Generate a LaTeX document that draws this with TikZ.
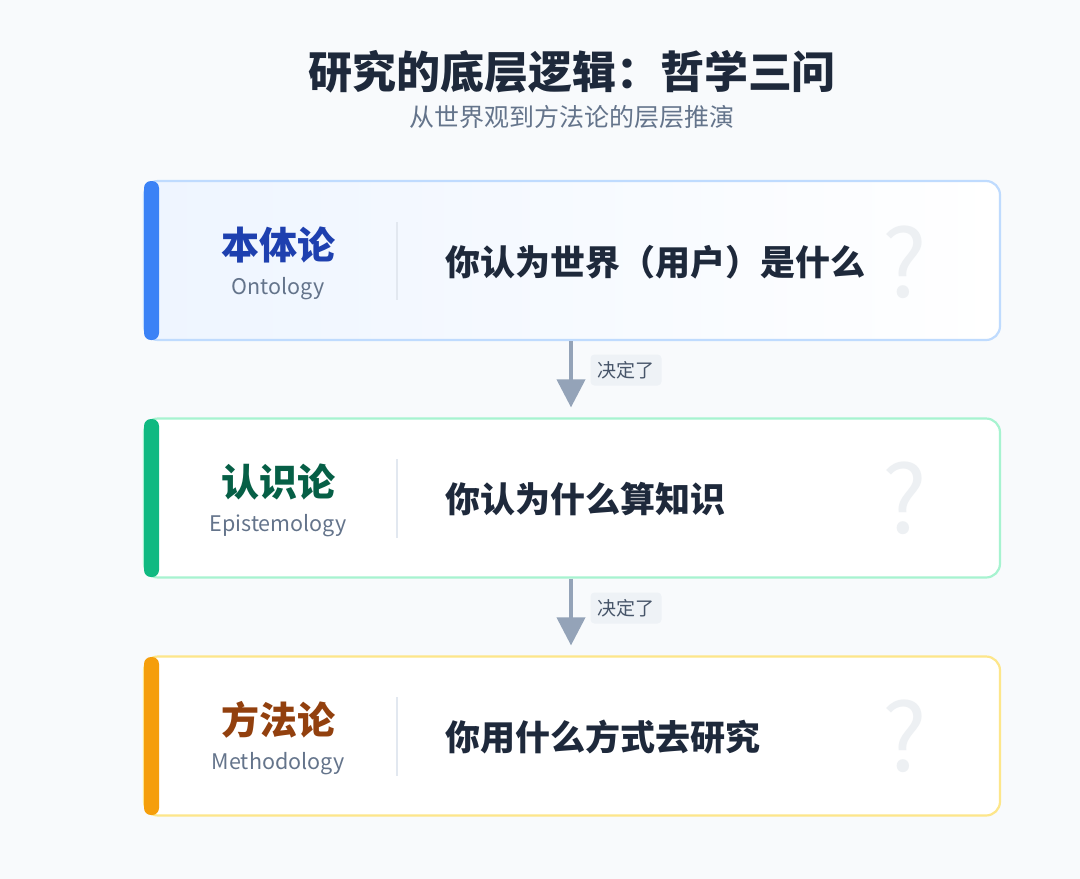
\documentclass[tikz,border=0pt]{standalone}
\usepackage{fontspec}
\setmainfont{Noto Sans CJK SC}
\usetikzlibrary{arrows.meta}
\definecolor{bgc}{HTML}{F8FAFC}
\definecolor{titlec}{HTML}{1E293B}
\definecolor{subc}{HTML}{64748B}
\definecolor{mainc}{HTML}{1E293B}
\definecolor{engc}{HTML}{64748B}
\definecolor{divc}{HTML}{E2E8F0}
\definecolor{arrc}{HTML}{94A3B8}
\definecolor{tagbg}{HTML}{EEF2F6}
\definecolor{tagc}{HTML}{475569}
\definecolor{qc}{HTML}{EDF0F3}
\definecolor{bdA}{HTML}{BFDBFE}
\definecolor{bdB}{HTML}{A7F3D0}
\definecolor{bdC}{HTML}{FDE68A}
\definecolor{acA}{HTML}{3B82F6}
\definecolor{acB}{HTML}{10B981}
\definecolor{acC}{HTML}{F59E0B}
\definecolor{lbA}{HTML}{1E40AF}
\definecolor{lbB}{HTML}{065F46}
\definecolor{lbC}{HTML}{92400E}
\definecolor{fillA}{HTML}{EEF5FF}
\tikzset{
  card/.style={draw=#1, line width=2.2pt, rounded corners=14pt, minimum width=856pt, minimum height=159pt, inner sep=0pt, fill=white},
  accent/.style={fill=#1, rounded corners=7pt},
  cnlabel/.style={text=#1, font=\fontsize{38}{44}\selectfont\bfseries, inner sep=0pt},
  enlabel/.style={text=engc, font=\fontsize{21.5}{26}\selectfont, inner sep=0pt},
  maintext/.style={text=mainc, font=\fontsize{35}{42}\selectfont\bfseries, inner sep=0pt, anchor=west},
  qmark/.style={text=qc, font=\fontsize{94}{100}\selectfont, inner sep=0pt},
  divline/.style={draw=divc, line width=2pt},
  flow/.style={draw=arrc, line width=4pt, -{Triangle[width=28pt,length=28pt]}, shorten >=10pt},
  tag/.style={fill=tagbg, rounded corners=4pt, text=tagc, font=\fontsize{19}{22}\selectfont, inner xsep=7pt, minimum height=31pt, inner ysep=0pt}
}
\begin{document}
\begin{tikzpicture}[x=1pt,y=-1pt]
\fill[bgc] (0,0) rectangle (1080,879);
\useasboundingbox (0,0) rectangle (1080,879);

\node[text=titlec, font=\fontsize{44}{52}\selectfont\bfseries, inner sep=0pt] (title) at (572,72) {研究的底层逻辑：哲学三问};
\node[text=subc, font=\fontsize{25}{30}\selectfont, inner sep=0pt] (subtitle) at (572,117) {从世界观到方法论的层层推演};

% card 1
\node[card=bdA, left color=fillA, right color=white] (card1) at (572,260.5) {};
\fill[accent=acA] (144,181) rectangle (159,340);
\node[cnlabel=lbA] (l1) at (278,245) {本体论};
\node[enlabel] (e1) at (278,289) {Ontology};
\coordinate (d1a) at (397,222); \coordinate (d1b) at (397,300);
\draw[divline] (d1a) -- (d1b);
\node[maintext] (m1) at (445,262) {你认为世界（用户）是什么};
\node[qmark] (q1) at (905,262) {?};

% card 2
\node[card=bdB] (card2) at (572,498) {};
\fill[accent=acB] (144,419) rectangle (159,577);
\node[cnlabel=lbB] (l2) at (278,482) {认识论};
\node[enlabel] (e2) at (278,526) {Epistemology};
\coordinate (d2a) at (397,459); \coordinate (d2b) at (397,538);
\draw[divline] (d2a) -- (d2b);
\node[maintext] (m2) at (445,499) {你认为什么算知识};
\node[qmark] (q2) at (905,498) {?};

% card 3
\node[card=bdC] (card3) at (572,736) {};
\fill[accent=acC] (144,657) rectangle (159,815);
\node[cnlabel=lbC] (l3) at (278,720) {方法论};
\node[enlabel] (e3) at (278,764) {Methodology};
\coordinate (d3a) at (397,697); \coordinate (d3b) at (397,776);
\draw[divline] (d3a) -- (d3b);
\node[maintext] (m3) at (445,737) {你用什么方式去研究};
\node[qmark] (q3) at (905,736) {?};

% arrows
\draw[flow] ([xshift=-1pt]card1.south) -- ([xshift=-1pt]card2.north);
\node[tag] (t1) at (626,370) {决定了};
\draw[flow] ([xshift=-1pt]card2.south) -- ([xshift=-1pt]card3.north);
\node[tag] (t2) at (626,608) {决定了};
\end{tikzpicture}
\end{document}
